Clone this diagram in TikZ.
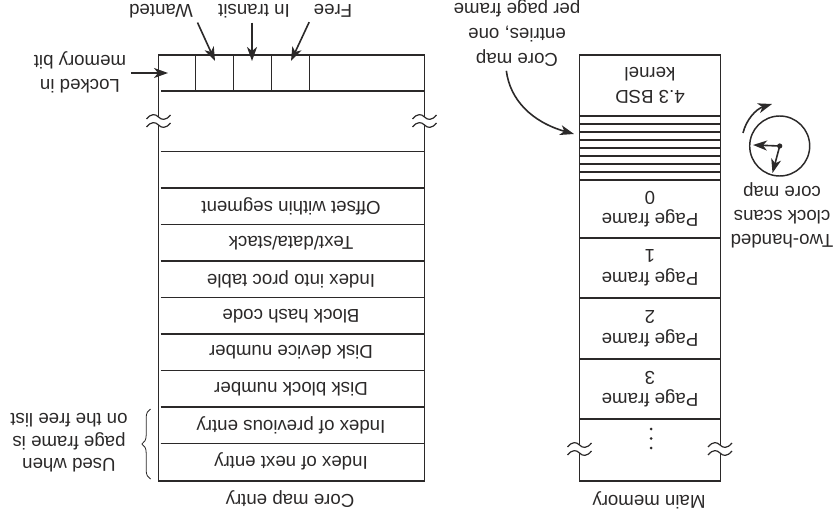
\documentclass[tikz,border=0pt]{standalone}
\usepackage{fontspec}
\setmainfont{Liberation Sans}
\usepackage{xcolor}
\usetikzlibrary{arrows.meta,positioning,calc,decorations.pathreplacing}
\definecolor{ink}{HTML}{2B2929}
\def\px{0.75pt}
\tikzset{
    every picture/.style={line cap=butt,line join=miter},
    tabletext/.style={rotate=180,text=ink,align=center,inner sep=0pt,outer sep=3.5pt,
      font=\fontsize{14}{17}\selectfont},
    entryrow/.style={tabletext,outer sep=0pt,minimum width=266*\px,minimum height=36.5*\px},
    pagerow/.style={tabletext,draw=ink,line width=1.1pt,outer sep=0pt,
      minimum width=140.5*\px},
    stripe/.style={draw=ink,line width=1.1pt,inner sep=0pt,outer sep=0pt,
      minimum width=140.5*\px,minimum height=8*\px},
    bitcell/.style={draw=ink,line width=1.1pt,inner sep=0pt,outer sep=0pt,
      minimum width=38*\px,minimum height=36*\px},
    rowrule/.style={draw=ink,line width=1.1pt},
    flowarrow/.style={-{Stealth[length=10.5pt,width=7.5pt,inset=3pt]},draw=ink,line width=1.2pt},
    breakmark/.pic={
      \fill[white] (-12,-3) .. controls (-7,-9) and (-3,-7) .. (0,-4)
        .. controls (3,-1) and (7,0) .. (12,-6) -- (12,3)
        .. controls (7,9) and (3,7) .. (0,4)
        .. controls (-3,1) and (-7,0) .. (-12,6) -- cycle;
      \draw[ink,line width=0.9pt] (-12,-2) .. controls (-7,-8) and (-3,-7) .. (0,-4)
        .. controls (3,-1) and (7,0) .. (12,-6);
      \draw[ink,line width=0.9pt] (-12,6) .. controls (-7,0) and (-3,1) .. (0,4)
        .. controls (3,7) and (7,8) .. (12,2);
    }
}
\begin{document}
\begin{tikzpicture}[x=\px,y=-\px]
  \useasboundingbox (0,0) rectangle (834,520);
  % core map entry
  \node[draw=ink,line width=1.1pt,minimum width=266*\px,minimum height=426*\px,
    inner sep=0pt,outer sep=0pt] (entryframe) at (291.5,268) {};
  \foreach \x/\name in {214.5/wantedbit,252.5/transitbit,290.5/freebit} {
    \node[bitcell] (\name) at (\x,73) {};
  }
  \coordinate (bitrule) at (291.5,91);
  \draw[rowrule] (161,91) -- (bitrule) -- (424.5,91);
  \foreach \n/\label in {0/{},1/{Offset within segment},2/{Text/data/stack},3/{Index into proc table},
      4/{Block hash code},5/{Disk device number},6/{Disk block number},
      7/{Index of previous entry},8/{Index of next entry}} {
    \node[entryrow] (e\n) at (291,{169.75+36.5*\n}) {\label};
    \draw[rowrule] ([xshift=2pt]e\n.south east) -- ([xshift=0.4pt]e\n.south west);
  }
  \draw[rowrule] ([xshift=2pt]e7.north east) -- ([xshift=0.4pt]e7.north west);
  \pic at (158.5,121) {breakmark};
  \pic at (424.5,121) {breakmark};
  \node[tabletext] (entrytitle) at (290,499) {Core map entry};
  % labels of the top row
  \node[tabletext] (wantedlbl) at (161,11) {Wanted};
  \node[tabletext] (transitlbl) at (254,11) {In transit};
  \node[tabletext] (freelbl) at (333,11) {Free};
  \node[tabletext,font=\fontsize{14}{18}\selectfont] (lockedlbl) at (80,72) {Locked in\\memory bit};
  \coordinate (wantedtip) at (215,61);
  \coordinate (transittip) at (252,61);
  \coordinate (freetip) at (291,61);
  \coordinate (lockedtip) at (168,73);
  \draw[flowarrow] (wantedlbl.north west) -- (wantedtip);
  \draw[flowarrow] (transitlbl.north -| transittip) -- (transittip);
  \draw[flowarrow] (freelbl.north east) -- (freetip);
  \draw[flowarrow] (lockedlbl.west |- lockedtip) -- (lockedtip);
  % free list brace
  \node[tabletext] (freelistlbl) at (69,443) {Used when\\page frame is\\on the free list};
  \coordinate (bracelow) at (150.5,479);
  \coordinate (bracehigh) at (150.5,409);
  \draw[ink,line width=0.6pt,decorate,decoration={brace,amplitude=6.5pt}] (bracelow) -- (bracehigh);
  % main memory
  \node[pagerow,minimum height=61*\px] (kernel) at (650,85.5) {4.3 BSD\\kernel};
  \foreach \n in {0,...,7} {
    \node[stripe] (s\n) at (650,{120+8*\n}) {};
  }
  \foreach \n/\y/\h in {0/209/58,1/268/60,2/328.5/61,3/389/60} {
    \node[pagerow,minimum height=\h*\px] (page\n) at (650,\y) {Page frame\\\n};
  }
  \node[pagerow,minimum height=62*\px] (restrow) at (650,450) {};
  \foreach \y in {429,438.5,448} {
    \fill[ink] (651,\y) circle (1.5);
  }
  \pic at (579.5,449) {breakmark};
  \pic at (720,449) {breakmark};
  \node[tabletext] (memorytitle) at (649,500) {Main memory};
  % core map pointer
  \node[tabletext,font=\fontsize{14}{18.5}\selectfont] (corelbl) at (517,33) {Core map\\entries, one\\per page frame};
  \coordinate (coretip) at (574,134);
  \draw[flowarrow] ([xshift=-8pt]corelbl.north) .. controls (510,100) and (532,122) .. (coretip);
  % clock
  \node[draw=ink,circle,line width=1.1pt,minimum size=60*\px,inner sep=0pt,outer sep=0pt] (clock) at (779.7,146) {};
  \coordinate (longhand) at (753,145);
  \coordinate (shorthand) at (772.5,173);
  \fill[ink] (clock.center) circle (2.6);
  \draw[flowarrow] (clock.center) -- (longhand);
  \draw[flowarrow] (clock.center) -- (shorthand);
  \coordinate (sweepstart) at (743,133);
  \coordinate (sweepend) at (772,104);
  \draw[flowarrow] (sweepstart) .. controls (746,120) and (756,109) .. (sweepend);
  \node[tabletext,font=\fontsize{14}{18}\selectfont] (clocklbl) at (782,215.5) {Two-handed\\clock scans\\core map};
\end{tikzpicture}
\end{document}
